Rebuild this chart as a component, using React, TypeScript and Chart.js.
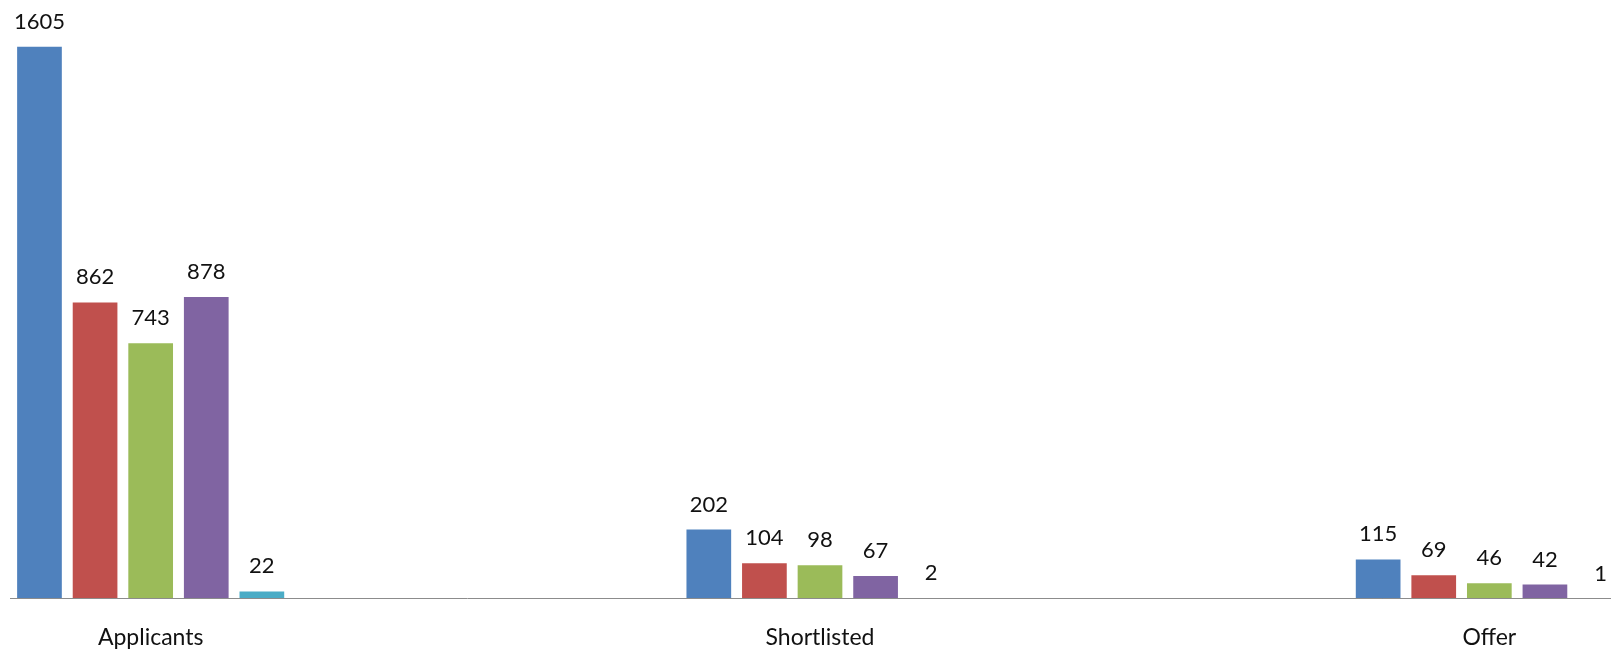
import React, { useEffect, useRef } from 'react';
import { Chart, registerables } from 'chart.js';

Chart.register(...registerables);

const categories = ['Applicants', 'Shortlisted', 'Offer'];
const seriesNames = ['Series 1', 'Series 2', 'Series 3', 'Series 4', 'Series 5'];
const series1 = [1605, 202, 115];
const series2 = [862, 104, 69];
const series3 = [743, 98, 46];
const series4 = [878, 67, 42];
const series5 = [22, 2, 1];
const seriesColors = ['#4F81BD', '#C0504D', '#9BBB59', '#8064A2', '#4BACC6'];

const SHIFT = 200; // canvas extends left of the visible frame
const CANVAS_W = 2040;
const CANVAS_H = 654;
const FONT = 'Lato';

export default function App() {
  const ref = useRef<HTMLCanvasElement>(null);

  useEffect(() => {
    const canvas = ref.current!;
    const allSeries = [series1, series2, series3, series4, series5];

    const valueLabels = {
      id: 'valueLabels',
      afterDatasetsDraw(chart: any) {
        const ctx = chart.ctx;
        ctx.save();
        ctx.font = `22px ${FONT}`;
        ctx.fillStyle = '#111';
        ctx.textAlign = 'center';
        ctx.textBaseline = 'alphabetic';
        chart.data.datasets.forEach((ds: any, i: number) => {
          const meta = chart.getDatasetMeta(i);
          meta.data.forEach((el: any, j: number) => {
            ctx.fillText(String(ds.data[j]), el.x, el.y - 18);
          });
        });
        ctx.restore();
      },
    };

    const baseline = {
      id: 'baseline',
      afterDatasetsDraw(chart: any) {
        const ctx = chart.ctx;
        const y = Math.round(chart.scales.y.getPixelForValue(0)) - 0.5;
        ctx.save();
        ctx.strokeStyle = '#8C8C8C';
        ctx.lineWidth = 1;
        ctx.beginPath();
        ctx.moveTo(SHIFT + 10, y);
        ctx.lineTo(chart.width, y);
        ctx.stroke();
        ctx.restore();
      },
    };

    const chart = new Chart(canvas, {
      type: 'bar',
      data: {
        labels: categories,
        datasets: allSeries.map((d, i) => ({
          label: seriesNames[i],
          data: d,
          backgroundColor: seriesColors[i],
          borderWidth: 0,
          categoryPercentage: 0.4153,
          barPercentage: 0.804,
        })),
      },
      options: {
        responsive: false,
        animation: false,
        devicePixelRatio: 1,
        layout: { padding: { left: 16, right: 16, top: 0, bottom: 0 } },
        plugins: {
          legend: { display: false },
          tooltip: { enabled: false },
        },
        scales: {
          x: {
            grid: { display: false, drawTicks: false },
            border: { display: false },
            afterFit: (scale: any) => {
              scale.height = 55;
            },
            ticks: {
              padding: 25,
              color: '#111',
              font: { family: FONT, size: 23 },
              maxRotation: 0,
              autoSkip: false,
            },
          },
          y: {
            display: false,
            min: 0,
            max: 1741,
          },
        },
      },
      plugins: [valueLabels, baseline],
    });
    return () => chart.destroy();
  }, []);

  return (
    <div
      style={{
        position: 'fixed',
        left: 0,
        top: 0,
        width: 1611,
        height: 654,
        overflow: 'hidden',
        background: '#fff',
      }}
    >
      <canvas
        ref={ref}
        width={CANVAS_W}
        height={CANVAS_H}
        style={{ position: 'absolute', left: -SHIFT, top: 0, width: CANVAS_W, height: CANVAS_H }}
      />
    </div>
  );
}
